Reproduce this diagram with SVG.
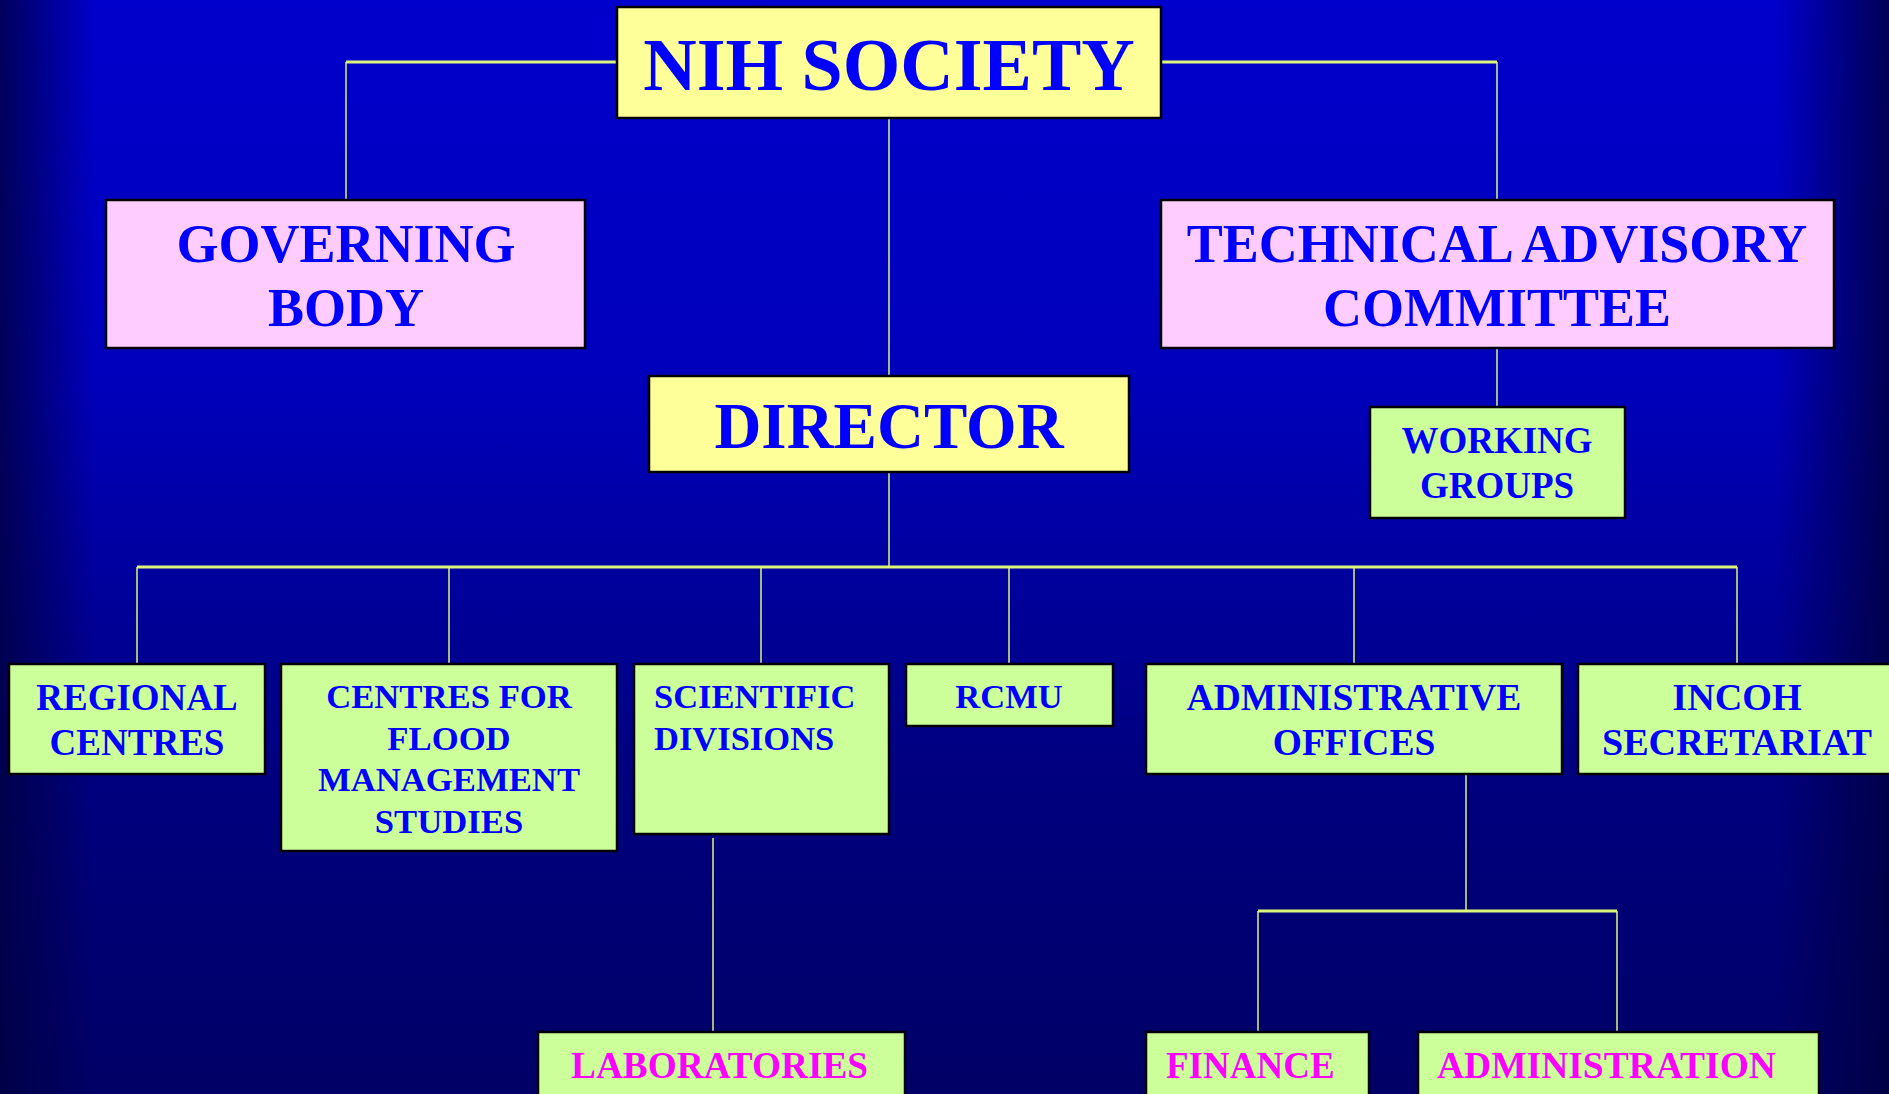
<svg xmlns="http://www.w3.org/2000/svg" width="1889" height="1094" viewBox="0 0 1889 1094">
<defs>
<linearGradient id="bgv" x1="0" y1="0" x2="0" y2="1">
<stop offset="0" stop-color="#0000CC"/>
<stop offset="0.35" stop-color="#0000BB"/>
<stop offset="0.7" stop-color="#000080"/>
<stop offset="1" stop-color="#000066"/>
</linearGradient>
<linearGradient id="bgh" x1="0" y1="0" x2="1" y2="0">
<stop offset="0" stop-color="#000040" stop-opacity="0.8"/>
<stop offset="0.05" stop-color="#000040" stop-opacity="0"/>
<stop offset="0.94" stop-color="#000040" stop-opacity="0"/>
<stop offset="1" stop-color="#000040" stop-opacity="0.85"/>
</linearGradient>
<style>
.box{stroke:#000;stroke-width:2.5}
.y{fill:#FFFF99}
.p{fill:#FFCCFF}
.g{fill:#CCFF99}
text{font-family:"Liberation Serif","Times New Roman",serif;font-weight:bold;fill:#0000FF;text-anchor:middle}
.m{fill:#FF00FF;text-anchor:start}
.l{text-anchor:start}
.c line{stroke:#DDF57A;stroke-width:1.5}
.c .t{stroke-width:3}
</style>
</defs>
<rect width="1889" height="1094" fill="url(#bgv)"/>
<rect width="1889" height="1094" fill="url(#bgh)"/>
<g class="c" id="connectors">
<line class="t" x1="346" y1="62" x2="617" y2="62"/>
<line class="t" x1="1161" y1="62" x2="1497" y2="62"/>
<line x1="346" y1="62" x2="346" y2="200"/>
<line x1="1497" y1="62" x2="1497" y2="200"/>
<line x1="889" y1="118" x2="889" y2="376"/>
<line x1="1497" y1="348" x2="1497" y2="407"/>
<line x1="889" y1="472" x2="889" y2="567"/>
<line class="t" x1="137" y1="567" x2="1737" y2="567"/>
<line x1="137" y1="567" x2="137" y2="664"/>
<line x1="449" y1="567" x2="449" y2="664"/>
<line x1="761" y1="567" x2="761" y2="664"/>
<line x1="1009" y1="567" x2="1009" y2="664"/>
<line x1="1354" y1="567" x2="1354" y2="664"/>
<line x1="1737" y1="567" x2="1737" y2="664"/>
<line x1="713" y1="838" x2="713" y2="1032"/>
<line x1="1466" y1="774" x2="1466" y2="911"/>
<line class="t" x1="1258" y1="911" x2="1617" y2="911"/>
<line x1="1258" y1="911" x2="1258" y2="1032"/>
<line x1="1617" y1="911" x2="1617" y2="1032"/>
</g>
<g id="nih-society"><rect class="box y" x="617" y="7" width="544" height="111"/><text x="889" y="90" font-size="74">NIH SOCIETY</text></g>
<g id="governing-body"><rect class="box p" x="106" y="200" width="479" height="148"/><text x="346" y="262" font-size="54">GOVERNING</text><text x="346" y="326" font-size="54">BODY</text></g>
<g id="technical-advisory-committee"><rect class="box p" x="1161" y="200" width="673" height="148"/><text x="1497" y="262" font-size="54">TECHNICAL ADVISORY</text><text x="1497" y="326" font-size="54">COMMITTEE</text></g>
<g id="director"><rect class="box y" x="649" y="376" width="480" height="96"/><text x="889" y="448" font-size="65">DIRECTOR</text></g>
<g id="working-groups"><rect class="box g" x="1370" y="407" width="255" height="111"/><text x="1497" y="453" font-size="37">WORKING</text><text x="1497" y="498" font-size="37">GROUPS</text></g>
<g id="regional-centres"><rect class="box g" x="9" y="664" width="256" height="110"/><text x="137" y="710" font-size="37">REGIONAL</text><text x="137" y="755" font-size="37">CENTRES</text></g>
<g id="centres-flood"><rect class="box g" x="281" y="664" width="336" height="187"/><text x="449" y="708" font-size="34.7">CENTRES FOR</text><text x="449" y="750" font-size="34.7">FLOOD</text><text x="449" y="791" font-size="34.7">MANAGEMENT</text><text x="449" y="833" font-size="34.7">STUDIES</text></g>
<g id="scientific-divisions"><rect class="box g" x="634" y="664" width="255" height="170"/><text class="l" x="654" y="708" font-size="34.5">SCIENTIFIC</text><text class="l" x="654" y="750" font-size="34.5">DIVISIONS</text></g>
<g id="rcmu"><rect class="box g" x="906" y="664" width="207" height="62"/><text x="1009" y="708" font-size="34.5">RCMU</text></g>
<g id="administrative-offices"><rect class="box g" x="1146" y="664" width="416" height="110"/><text x="1354" y="710" font-size="37.5">ADMINISTRATIVE</text><text x="1354" y="755" font-size="37.5">OFFICES</text></g>
<g id="incoh-secretariat"><rect class="box g" x="1578" y="664" width="330" height="110"/><text x="1737" y="710" font-size="38.2">INCOH</text><text x="1737" y="755" font-size="38.2">SECRETARIAT</text></g>
<g id="laboratories"><rect class="box g" x="538" y="1032" width="367" height="80"/><text class="m" x="571" y="1078" font-size="37.3">LABORATORIES</text></g>
<g id="finance"><rect class="box g" x="1146" y="1032" width="223" height="80"/><text class="m" x="1166" y="1078" font-size="37">FINANCE</text></g>
<g id="administration"><rect class="box g" x="1418" y="1032" width="401" height="80"/><text class="m" x="1437" y="1078" font-size="37.5">ADMINISTRATION</text></g>
</svg>
